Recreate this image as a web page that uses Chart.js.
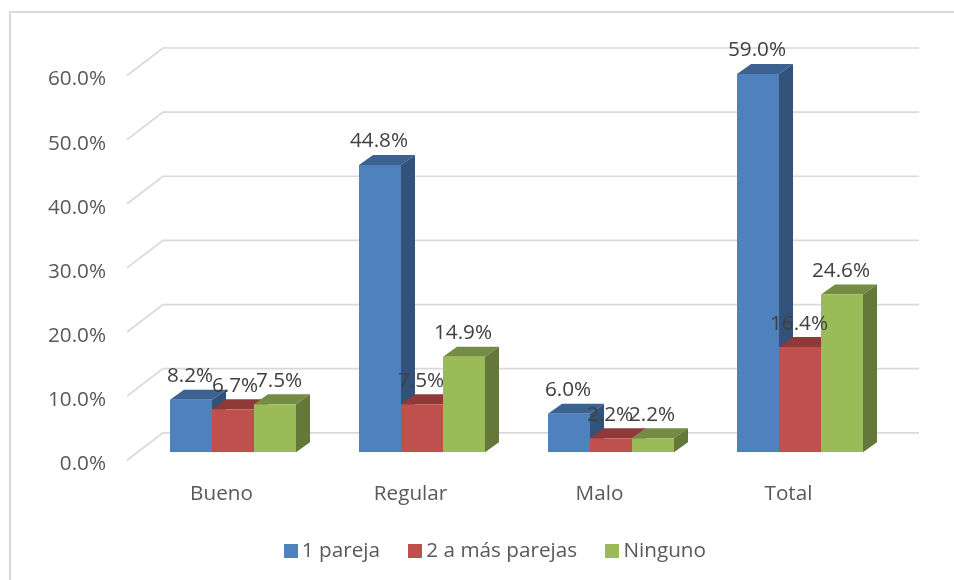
<!DOCTYPE html>
<html><head><meta charset="utf-8">
<style>html,body{margin:0;padding:0;background:#fff;overflow:hidden}canvas{display:block}</style>
<script src="https://cdn.jsdelivr.net/npm/chart.js@4"></script>
</head><body>
<div style="width:954px;height:580px"><canvas id="c" width="954" height="580"></canvas></div>
<script>
const categories = ['Bueno', 'Regular', 'Malo', 'Total'];
const seriesNames = ['1 pareja', '2 a más parejas', 'Ninguno'];
const unaPareja = [8.2, 44.8, 6.0, 59.0];
const dosAMas = [6.7, 7.5, 2.2, 16.4];
const ninguno = [7.5, 14.9, 2.2, 24.6];
const yTicks = [0, 10, 20, 30, 40, 50, 60];

const FONT = '"Open Sans"';
const FS = 20.7;
const front = ['#4f81bd', '#c0504d', '#9bbb59'];
const topFace = ['#3b6291', '#8f3a38', '#748c43'];
const sideFace = ['#32527a', '#7c312f', '#64783a'];
const DX = 14, DY = 10;

function swatch(color) {
  const s = document.createElement('canvas');
  s.width = 14; s.height = 14;
  const g = s.getContext('2d');
  g.fillStyle = color; g.fillRect(0, 0, 14, 14);
  return s;
}

const scene3d = {
  id: 'scene3d',
  afterLayout(chart) {
    chart.legend.left += 50.5; chart.legend.right += 50.5;
    chart.legend.top -= 9; chart.legend.bottom -= 9;
  },
  beforeDraw(chart) {
    const ctx = chart.ctx, { left, right } = chart.chartArea, y = chart.scales.y;
    ctx.save();
    ctx.strokeStyle = '#d9d9d9'; ctx.lineWidth = 2;
    ctx.beginPath(); ctx.moveTo(10, 600); ctx.lineTo(10, 12); ctx.lineTo(960, 12); ctx.stroke();
    ctx.lineWidth = 1.7;
    yTicks.forEach(v => {
      const p = y.getPixelForValue(v);
      ctx.beginPath();
      ctx.moveTo(left - 11.5, p + 8);
      ctx.lineTo(left + 24.5, p - 19.5);
      ctx.lineTo(right + 24.5, p - 19.5);
      ctx.stroke();
    });
    ctx.restore();
  },
  beforeDatasetsDraw(chart) {
    const ctx = chart.ctx, base = chart.scales.y.getPixelForValue(0);
    const n = chart.data.datasets.length;
    chart.data.labels.forEach((_, j) => {
      for (let i = 0; i < n; i++) {
        const b = chart.getDatasetMeta(i).data[j];
        const l = b.x - b.width / 2, r = b.x + b.width / 2, t = b.y;
        ctx.fillStyle = topFace[i];
        ctx.beginPath();
        ctx.moveTo(l, t); ctx.lineTo(l + DX, t - DY); ctx.lineTo(r + DX, t - DY); ctx.lineTo(r, t);
        ctx.closePath(); ctx.fill();
        ctx.fillStyle = sideFace[i];
        ctx.beginPath();
        ctx.moveTo(r, t); ctx.lineTo(r + DX, t - DY); ctx.lineTo(r + DX, base - DY); ctx.lineTo(r, base);
        ctx.closePath(); ctx.fill();
      }
    });
  },
  afterDatasetsDraw(chart) {
    const ctx = chart.ctx;
    ctx.save();
    ctx.font = FS + 'px ' + FONT;
    ctx.fillStyle = '#404040';
    ctx.textAlign = 'center'; ctx.textBaseline = 'middle';
    chart.data.datasets.forEach((ds, i) => {
      chart.getDatasetMeta(i).data.forEach((b, j) => {
        const nudge = j === 0 ? [0, 3, 5][i] : 0;
        ctx.fillText(ds.data[j].toFixed(1) + '%', b.x - 1 + nudge, b.y - 23.5);
      });
    });
    ctx.restore();
  }
};

new Chart(document.getElementById('c'), {
  type: 'bar',
  plugins: [scene3d],
  data: {
    labels: categories,
    datasets: [
      { label: seriesNames[0], data: unaPareja, backgroundColor: front[0] },
      { label: seriesNames[1], data: dosAMas, backgroundColor: front[1] },
      { label: seriesNames[2], data: ninguno, backgroundColor: front[2] }
    ]
  },
  options: {
    responsive: false,
    animation: false,
    layout: { padding: { top: 67.5, right: 59.5, left: 0, bottom: 0 } },
    datasets: { bar: { barPercentage: 1, categoryPercentage: 2 / 3, borderWidth: 0 } },
    plugins: {
      tooltip: { enabled: false },
      legend: {
        position: 'bottom',
        labels: {
          font: { family: FONT, size: FS },
          color: '#595959',
          padding: 34,
          usePointStyle: true,
          pointStyleWidth: 2,
          boxHeight: 14,
          generateLabels(chart) {
            return Chart.defaults.plugins.legend.labels.generateLabels(chart)
              .map((it, i) => Object.assign(it, { pointStyle: swatch(front[i]) }));
          }
        }
      }
    },
    scales: {
      x: {
        grid: { display: false }, border: { display: false },
        afterFit(s) { s.height = 63; },
        ticks: { font: { family: FONT, size: FS }, color: '#595959', padding: 21, labelOffset: -11.5, maxRotation: 0 }
      },
      y: {
        min: 0, max: 60,
        grid: { display: false }, border: { display: false },
        afterFit(s) { s.width = 138.5; },
        afterBuildTicks(s) { s.ticks = yTicks.map(v => ({ value: v })); },
        ticks: {
          font: { family: FONT, size: FS }, color: '#595959', padding: 24.5, labelOffset: 12,
          callback: v => v.toFixed(1) + '%'
        }
      }
    }
  }
});
</script>
</body></html>
